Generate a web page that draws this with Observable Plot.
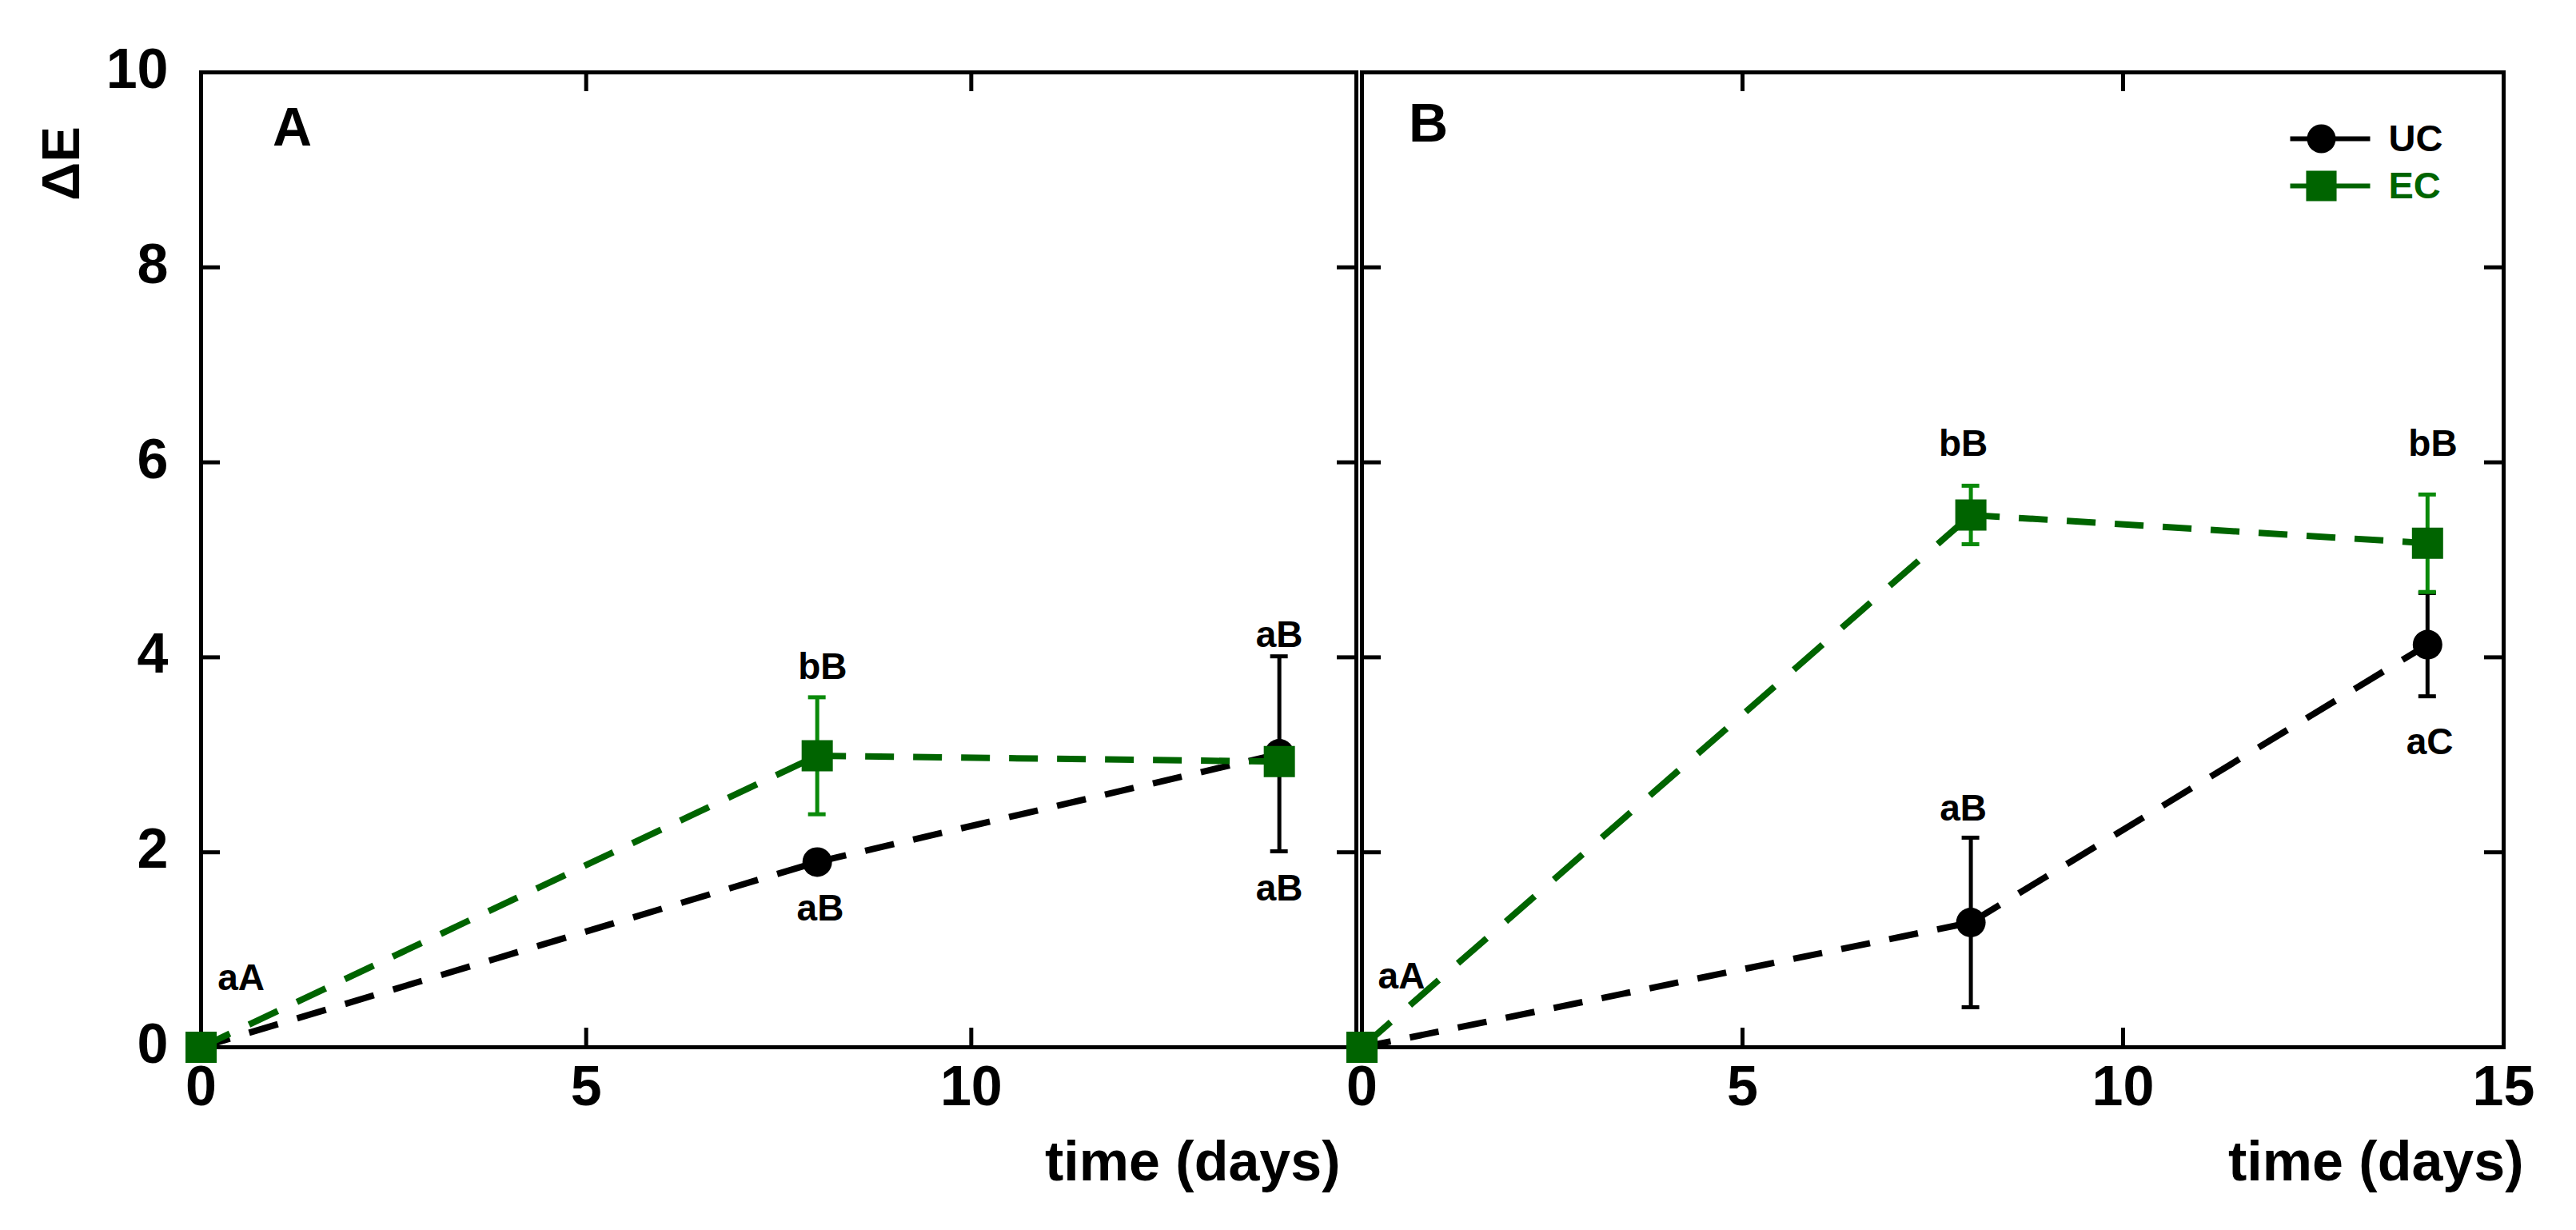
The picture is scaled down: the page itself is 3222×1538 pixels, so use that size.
<!DOCTYPE html>
<html>
<head>
<meta charset="utf-8">
<script src="https://cdn.jsdelivr.net/npm/d3@7"></script>
<script src="https://cdn.jsdelivr.net/npm/@observablehq/plot@0.6"></script>
<style>
  body { margin: 0; background: #fff; }
  #wrap { position: relative; width: 3222px; height: 1538px; background: #fff; }
  #wrap svg { position: absolute; top: 0; }
</style>
</head>
<body>
<div id="wrap"></div>
<script>
// ---- data ----
const days = [0, 8, 14];

// Panel A
const ucA = [0, 1.90, 3.01];
const ucA_sd = [0, 0.10, 1.00];
const ecA = [0, 2.99, 2.93];
const ecA_sd = [0, 0.60, 0.10];

// Panel B
const ucB = [0, 1.28, 4.13];
const ucB_sd = [0, 0.87, 0.53];
const ecB = [0, 5.46, 5.17];
const ecB_sd = [0, 0.30, 0.50];

// significance letters (day, value position, text)
const labelDaysA = [0.52, 8.07, 8.04, 14.0, 14.0];
const labelValsA = [0.71, 3.90, 1.42, 4.23, 1.63];
const labelTextA = ["aA", "bB", "aB", "aB", "aB"];
const labelDaysB = [0.52, 7.9, 7.9, 14.07, 14.03];
const labelValsB = [0.72, 2.45, 6.19, 6.19, 3.13];
const labelTextB = ["aA", "aB", "bB", "bB", "aC"];

const xTicks = [0, 5, 10, 15];
const xTickLabelsA = [0, 5, 10];
const xTickLabelsB = [0, 5, 10, 15];
const yTicks = [0, 2, 4, 6, 8, 10];
const seriesNames = ["UC", "EC"];

// ---- styles ----
const BLACK = "#000";
const GREEN = "#006400";
const GREEN_ERR = "#0a8a0a";
const FONT = "'Liberation Sans', Arial, sans-serif";

function rows(vals, sds) {
  return days.map((d, i) => ({day: d, value: vals[i], sd: sds[i]}));
}
function segments(R) {
  return R.slice(1).map((d, i) => ({x1: R[i].day, y1: R[i].value, x2: d.day, y2: d.value}));
}

function panel({left, width, marginLeft, marginRight, uc, ucSd, ec, ecSd,
                lDays, lVals, lText, xLabels, showY, letter, letterDx, letterDy,
                titleDx, legend}) {
  const height = 1538, marginTop = 90, marginBottom = 229;
  const FW = width - marginLeft - marginRight;
  const FH = height - marginTop - marginBottom;
  const U = rows(uc, ucSd), E = rows(ec, ecSd);
  const Ue = U.filter(d => d.sd > 0), Ee = E.filter(d => d.sd > 0);
  const labels = lDays.map((d, i) => ({day: d, value: lVals[i], text: lText[i]}));

  const marks = [
    // frame + inward ticks
    Plot.frame({stroke: BLACK, strokeWidth: 5}),
    Plot.tickX(xTicks, {x: d => d, insetTop: FH - 24, strokeWidth: 5}),
    Plot.tickX(xTicks, {x: d => d, insetBottom: FH - 24, strokeWidth: 5}),
    Plot.tickY(yTicks, {y: d => d, insetRight: FW - 24, strokeWidth: 5}),
    Plot.tickY(yTicks, {y: d => d, insetLeft: FW - 24, strokeWidth: 5}),
    // tick labels
    Plot.text(xLabels, {x: d => d, frameAnchor: "bottom", lineAnchor: "middle", dy: 50,
      text: d => String(d), fontSize: 70, fill: BLACK}),
    Plot.text(["time (days)"], {frameAnchor: "bottom-right", dx: titleDx, dy: 166,
      lineAnchor: "bottom", textAnchor: "end", text: d => d, fontSize: 70, fill: BLACK}),
    // dashed lines (one link per segment so the dash can follow the slope)
    Plot.link(segments(U), {x1: "x1", y1: "y1", x2: "x2", y2: "y2", stroke: BLACK,
      strokeWidth: 8, strokeDasharray: "36,24"}),
    Plot.link(segments(E), {x1: "x1", y1: "y1", x2: "x2", y2: "y2", stroke: GREEN,
      strokeWidth: 8, strokeDasharray: "36,24"}),
    // UC error bars + markers
    Plot.ruleX(Ue, {x: "day", y1: d => d.value - d.sd, y2: d => d.value + d.sd, stroke: BLACK, strokeWidth: 5}),
    Plot.ruleY(Ue, {y: d => d.value + d.sd, x1: "day", x2: "day", insetLeft: -11, insetRight: -11, stroke: BLACK, strokeWidth: 5}),
    Plot.ruleY(Ue, {y: d => d.value - d.sd, x1: "day", x2: "day", insetLeft: -11, insetRight: -11, stroke: BLACK, strokeWidth: 5}),
    Plot.dot(U, {x: "day", y: "value", r: 18.5, fill: BLACK, symbol: "circle"}),
    // EC error bars + markers
    Plot.ruleX(Ee, {x: "day", y1: d => d.value - d.sd, y2: d => d.value + d.sd, stroke: GREEN_ERR, strokeWidth: 5}),
    Plot.ruleY(Ee, {y: d => d.value + d.sd, x1: "day", x2: "day", insetLeft: -11, insetRight: -11, stroke: GREEN_ERR, strokeWidth: 5}),
    Plot.ruleY(Ee, {y: d => d.value - d.sd, x1: "day", x2: "day", insetLeft: -11, insetRight: -11, stroke: GREEN_ERR, strokeWidth: 5}),
    Plot.dot(E, {x: "day", y: "value", r: 22, fill: GREEN, symbol: "square"}),
    // letters
    Plot.text(labels, {x: "day", y: "value", text: "text", lineAnchor: "middle", fontSize: 46, fill: BLACK}),
    Plot.text([letter], {frameAnchor: "top-left", lineAnchor: "middle", textAnchor: "middle",
      dx: letterDx, dy: letterDy, text: d => d, fontSize: 68, fill: BLACK})
  ];

  if (showY) {
    marks.push(
      Plot.text(yTicks, {y: d => d, frameAnchor: "left", lineAnchor: "middle", dx: -41, dy: -3,
        textAnchor: "end", text: d => String(d), fontSize: 70, fill: BLACK}),
      Plot.text(["ΔE"], {frameAnchor: "top-left", lineAnchor: "middle", textAnchor: "middle",
        dx: -174, dy: 114, rotate: -90, text: d => d, fontSize: 67, fill: BLACK})
    );
  }

  if (legend) {
    const lineSym = {draw(ctx) { ctx.moveTo(-50, 0); ctx.lineTo(50, 0); }};
    const rowsDy = [83, 142];
    const colors = [BLACK, GREEN];
    const syms = ["circle", "square"];
    const rs = [18, 21.5];
    seriesNames.forEach((name, i) => {
      marks.push(
        Plot.dot([name], {frameAnchor: "top-right", dx: -217, dy: rowsDy[i], symbol: lineSym,
          r: 10, stroke: colors[i], strokeWidth: 6, fill: "none"}),
        Plot.dot([name], {frameAnchor: "top-right", dx: -228, dy: rowsDy[i], symbol: syms[i],
          r: rs[i], fill: colors[i], stroke: "none"}),
        Plot.text([name], {frameAnchor: "top-right", lineAnchor: "middle", dx: -144, dy: rowsDy[i],
          textAnchor: "start", text: d => d, fontSize: 47, fill: colors[i]})
      );
    });
  }

  const svg = Plot.plot({
    width, height, marginLeft, marginRight, marginTop, marginBottom,
    x: {domain: [0, 15], axis: null},
    y: {domain: [0, 10], axis: null},
    style: {fontFamily: FONT, fontWeight: "bold", background: "transparent", overflow: "visible"},
    marks
  });
  svg.style.left = left + "px";
  svg.style.maxWidth = "none";

  // dash pattern keeps a constant horizontal period (as in the original figure)
  svg.querySelectorAll("g[stroke-dasharray] path").forEach(p => {
    const n = (p.getAttribute("d") || "").match(/-?\d*\.?\d+(?:e-?\d+)?/g);
    if (!n || n.length < 4) return;
    const [x1, y1, x2, y2] = n.map(Number);
    const len = Math.hypot(x2 - x1, y2 - y1);
    const c = Math.max(0.3, Math.abs(x2 - x1) / len);
    p.style.strokeDasharray = `${(36 / c).toFixed(1)},${(24 / c).toFixed(1)}`;
  });
  return svg;
}

const wrap = document.getElementById("wrap");
wrap.appendChild(panel({
  left: 0, width: 1700, marginLeft: 251, marginRight: 4,
  uc: ucA, ucSd: ucA_sd, ec: ecA, ecSd: ecA_sd,
  lDays: labelDaysA, lVals: labelValsA, lText: labelTextA,
  xLabels: xTickLabelsA, showY: true, letter: "A", letterDx: 114, letterDy: 70,
  titleDx: -20, legend: false
}));
wrap.appendChild(panel({
  left: 1700, width: 1522, marginLeft: 3, marginRight: 91,
  uc: ucB, ucSd: ucB_sd, ec: ecB, ecSd: ecB_sd,
  lDays: labelDaysB, lVals: labelValsB, lText: labelTextB,
  xLabels: xTickLabelsB, showY: false, letter: "B", letterDx: 83, letterDy: 65,
  titleDx: 25, legend: true
}));
</script>
</body>
</html>
